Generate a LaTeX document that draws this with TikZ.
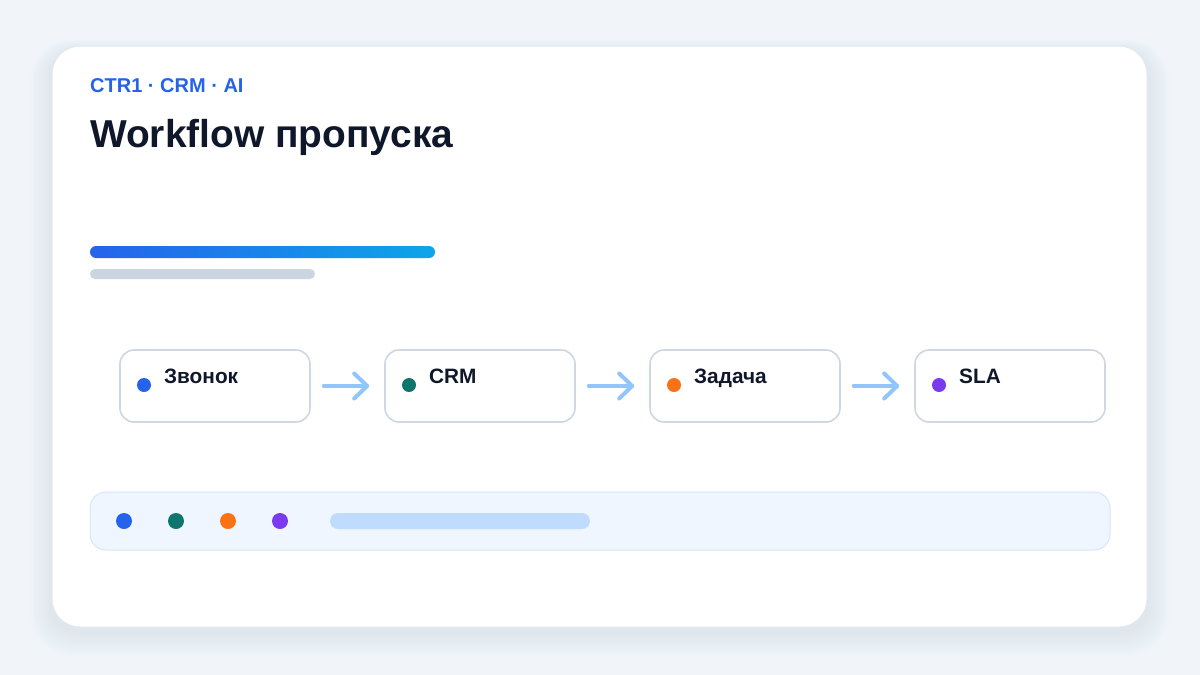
\documentclass[tikz,border=0pt]{standalone}
\usepackage{fontspec}
\setmainfont{Liberation Sans}
\usetikzlibrary{arrows.meta}
\definecolor{bgc}{HTML}{F1F5FA}
\definecolor{cardborder}{HTML}{E2E8F0}
\definecolor{shadowc}{HTML}{94A3B8}
\definecolor{accent}{HTML}{2563EB}
\definecolor{sky}{HTML}{0EA5E9}
\definecolor{ink}{HTML}{0F172A}
\definecolor{slate}{HTML}{CBD5E1}
\definecolor{boxborder}{HTML}{CFD7E2}
\definecolor{arrowc}{HTML}{93C5FD}
\definecolor{stripfill}{HTML}{EFF6FF}
\definecolor{stripborder}{HTML}{D6E6FA}
\definecolor{stripbar}{HTML}{BFDBFE}
\definecolor{dblue}{HTML}{2563EB}
\definecolor{dteal}{HTML}{0F766E}
\definecolor{dorange}{HTML}{F97316}
\definecolor{dpurple}{HTML}{7C3AED}
\tikzset{
  stepbox/.style={draw=boxborder, line width=1.6pt, fill=white, rounded corners=14pt, minimum width=190pt, minimum height=72pt, inner sep=0pt},
  flowarrow/.style={draw=arrowc, line width=4pt, line cap=round, -{Straight Barb[length=13pt,width=25pt,round]}, shorten <=13pt, shorten >=15pt},
  dot/.style={circle, inner sep=0pt, minimum size=14pt},
  bigdot/.style={circle, inner sep=0pt, minimum size=16pt},
  label/.style={anchor=base west, font=\bfseries\fontsize{20.8}{24}\selectfont, text=ink, inner sep=0pt}
}
\begin{document}
\begin{tikzpicture}[x=1pt,y=-1pt]
\useasboundingbox (0,0) rectangle (1200,675);
\fill[bgc] (0,0) rectangle (1200,675);
% shadow
\foreach \i in {1,...,14}{
  \fill[shadowc, opacity=0.013, rounded corners=28pt+\i pt] (52-\i*1.6, 46-\i*0.9+6) rectangle (1147+\i*1.6, 627+\i*1.7+5);
}
% card
\node[draw=cardborder, line width=1pt, fill=white, rounded corners=28pt, minimum width=1095pt, minimum height=581pt, inner sep=0pt] (card) at (599.5,336.5) {};
% header
\node[anchor=base west, inner sep=0pt, text=accent, font=\bfseries\fontsize{20}{24}\selectfont] (kicker) at (90,92) {CTR1 · CRM · AI};
\node[anchor=base west, inner sep=0pt, text=ink, font=\bfseries\fontsize{38.9}{44}\selectfont] (title) at (90,147) {Workflow пропуска};
% bars
\shade[left color=accent, right color=sky, rounded corners=6pt] (90,246) rectangle (435,258);
\fill[slate, rounded corners=5pt] (90,269) rectangle (315,279);
% steps
\node[stepbox] (s1) at (215,386) {};
\node[stepbox] (s2) at (480,386) {};
\node[stepbox] (s3) at (745,386) {};
\node[stepbox] (s4) at (1010,386) {};
\node[dot, fill=dblue] (d1) at (144,385) {};
\node[dot, fill=dteal] (d2) at (409,385) {};
\node[dot, fill=dorange] (d3) at (674,385) {};
\node[dot, fill=dpurple] (d4) at (939,385) {};
\node[label] (t1) at (164,383) {Звонок};
\node[label] (t2) at (429,383) {CRM};
\node[label] (t3) at (694,383) {Задача};
\node[label] (t4) at (959,383) {SLA};
\draw[flowarrow] (s1.east) -- (s2.west);
\draw[flowarrow] (s2.east) -- (s3.west);
\draw[flowarrow] (s3.east) -- (s4.west);
% bottom strip
\node[draw=stripborder, line width=1pt, fill=stripfill, rounded corners=16pt, minimum width=1020pt, minimum height=58pt, inner sep=0pt] (strip) at (600,521) {};
\node[bigdot, fill=dblue] (b1) at (124,521) {};
\node[bigdot, fill=dteal] (b2) at (176,521) {};
\node[bigdot, fill=dorange] (b3) at (228,521) {};
\node[bigdot, fill=dpurple] (b4) at (280,521) {};
\fill[stripbar, rounded corners=8pt] (330,513) rectangle (590,529);
\end{tikzpicture}
\end{document}
